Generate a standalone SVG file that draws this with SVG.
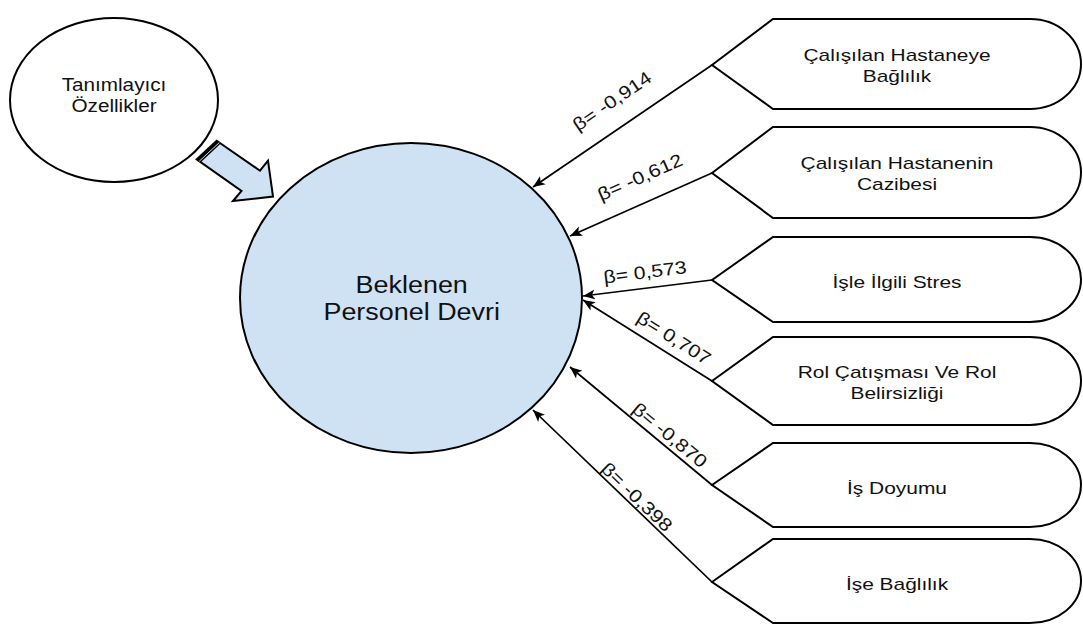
<svg xmlns="http://www.w3.org/2000/svg" width="1083" height="626" viewBox="0 0 1083 626">
<defs>
<style>
.shape{fill:#ffffff;stroke:#000;stroke-width:2}
.blue{fill:#cfe2f3;stroke:#000;stroke-width:2}
.t{font-family:"Liberation Sans",Arial,sans-serif;fill:#111;text-anchor:middle}
.conn{stroke:#000;stroke-width:1.7;fill:none;marker-end:url(#ah)}
.lbl{font-family:"Liberation Sans",Arial,sans-serif;font-size:18px;fill:#111;text-anchor:middle}
</style>
<marker id="ah" markerUnits="userSpaceOnUse" markerWidth="13" markerHeight="11" refX="12" refY="5" orient="auto">
<path d="M0,0 L12,5 L0,10 L3,5 Z" fill="#000"/>
</marker>
</defs>
<rect width="1083" height="626" fill="#fff"/>

<g id="tanimlayici">
<ellipse class="shape" cx="114" cy="100" rx="104" ry="82"/>
<g transform="translate(114,0) scale(1.12,1)">
<text class="t" font-size="18.5" x="0" y="90.7">Tanımlayıcı</text>
<text class="t" font-size="18.5" x="0" y="111.7">Özellikler</text>
</g>
</g>

<g id="block-arrow">
<polygon class="blue" points="216.7,140.7 260,170.7 268,160.7 273,196.5 233,201 241.5,191 196.7,159.3"/>
<polygon points="216.7,140.7 196.7,159.3 200.8,162.2 220.8,143.6" fill="#000"/>
<line x1="199.3" y1="161.2" x2="219.3" y2="142.6" stroke="#cfe2f3" stroke-width="1"/>
</g>

<g id="beklenen">
<ellipse class="blue" cx="411" cy="298" rx="171" ry="155"/>
<g transform="translate(411.7,0) scale(1.09,1)">
<text class="t" font-size="24.7" x="0" y="292.7">Beklenen</text>
<text class="t" font-size="24.7" x="0" y="320">Personel Devri</text>
</g>
</g>

<g id="n1">
<path class="shape" d="M712,65 L773,19 L1030,19 A51,45 0 0 1 1030,109 L773,109 Z"/>
<g transform="translate(897,0) scale(1.23,1)">
<text class="t" font-size="17" x="0" y="60.7">Çalışılan Hastaneye</text>
<text class="t" font-size="17" x="0" y="81.7">Bağlılık</text>
</g>
</g>
<g id="n2">
<path class="shape" d="M712,173 L773,127 L1030,127 A51,45.5 0 0 1 1030,218 L773,218 Z"/>
<g transform="translate(897,0) scale(1.23,1)">
<text class="t" font-size="17" x="0" y="169.2">Çalışılan Hastanenin</text>
<text class="t" font-size="17" x="0" y="190.2">Cazibesi</text>
</g>
</g>
<g id="n3">
<path class="shape" d="M712,280 L773,237 L1030,237 A51,42.5 0 0 1 1030,322 L773,322 Z"/>
<g transform="translate(897,0) scale(1.23,1)">
<text class="t" font-size="17" x="0" y="288.3">İşle İlgili Stres</text>
</g>
</g>
<g id="n4">
<path class="shape" d="M712,381 L773,337 L1030,337 A51,44 0 0 1 1030,425 L773,425 Z"/>
<g transform="translate(897,0) scale(1.23,1)">
<text class="t" font-size="17" x="0" y="377.7">Rol Çatışması Ve Rol</text>
<text class="t" font-size="17" x="0" y="398.7">Belirsizliği</text>
</g>
</g>
<g id="n5">
<path class="shape" d="M712,485 L773,443 L1030,443 A51,42 0 0 1 1030,527 L773,527 Z"/>
<g transform="translate(897,0) scale(1.23,1)">
<text class="t" font-size="17" x="0" y="493.8">İş Doyumu</text>
</g>
</g>
<g id="n6">
<path class="shape" d="M712,582 L773,539 L1030,539 A51,42 0 0 1 1030,623 L773,623 Z"/>
<g transform="translate(897,0) scale(1.23,1)">
<text class="t" font-size="17" x="0" y="589.8">İşe Bağlılık</text>
</g>
</g>

<g id="connectors">
<line class="conn" x1="712" y1="65" x2="533" y2="187"/>
<line class="conn" x1="712" y1="173" x2="570" y2="236"/>
<line class="conn" x1="712" y1="280" x2="583" y2="296"/>
<line class="conn" x1="712" y1="381" x2="583" y2="300"/>
<line class="conn" x1="712" y1="485" x2="570" y2="367"/>
<line class="conn" x1="712" y1="582" x2="533" y2="410"/>
<g transform="translate(612,101) rotate(-34.3) scale(1.18,1)"><text class="lbl" x="0" y="0" dy="0.35em">β= -0,914</text></g>
<g transform="translate(640,177) rotate(-23.9) scale(1.18,1)"><text class="lbl" x="0" y="0" dy="0.35em">β= -0,612</text></g>
<g transform="translate(645,272) rotate(-7.1) scale(1.18,1)"><text class="lbl" x="0" y="0" dy="0.35em">β= 0,573</text></g>
<g transform="translate(674,338) rotate(32.1) scale(1.18,1)"><text class="lbl" x="0" y="0" dy="0.35em">β= 0,707</text></g>
<g transform="translate(670,435) rotate(39.7) scale(1.18,1)"><text class="lbl" x="0" y="0" dy="0.35em">β= -0,870</text></g>
<g transform="translate(637,497) rotate(43.9) scale(1.18,1)"><text class="lbl" x="0" y="0" dy="0.35em">β= -0,398</text></g>
</g>
</svg>
